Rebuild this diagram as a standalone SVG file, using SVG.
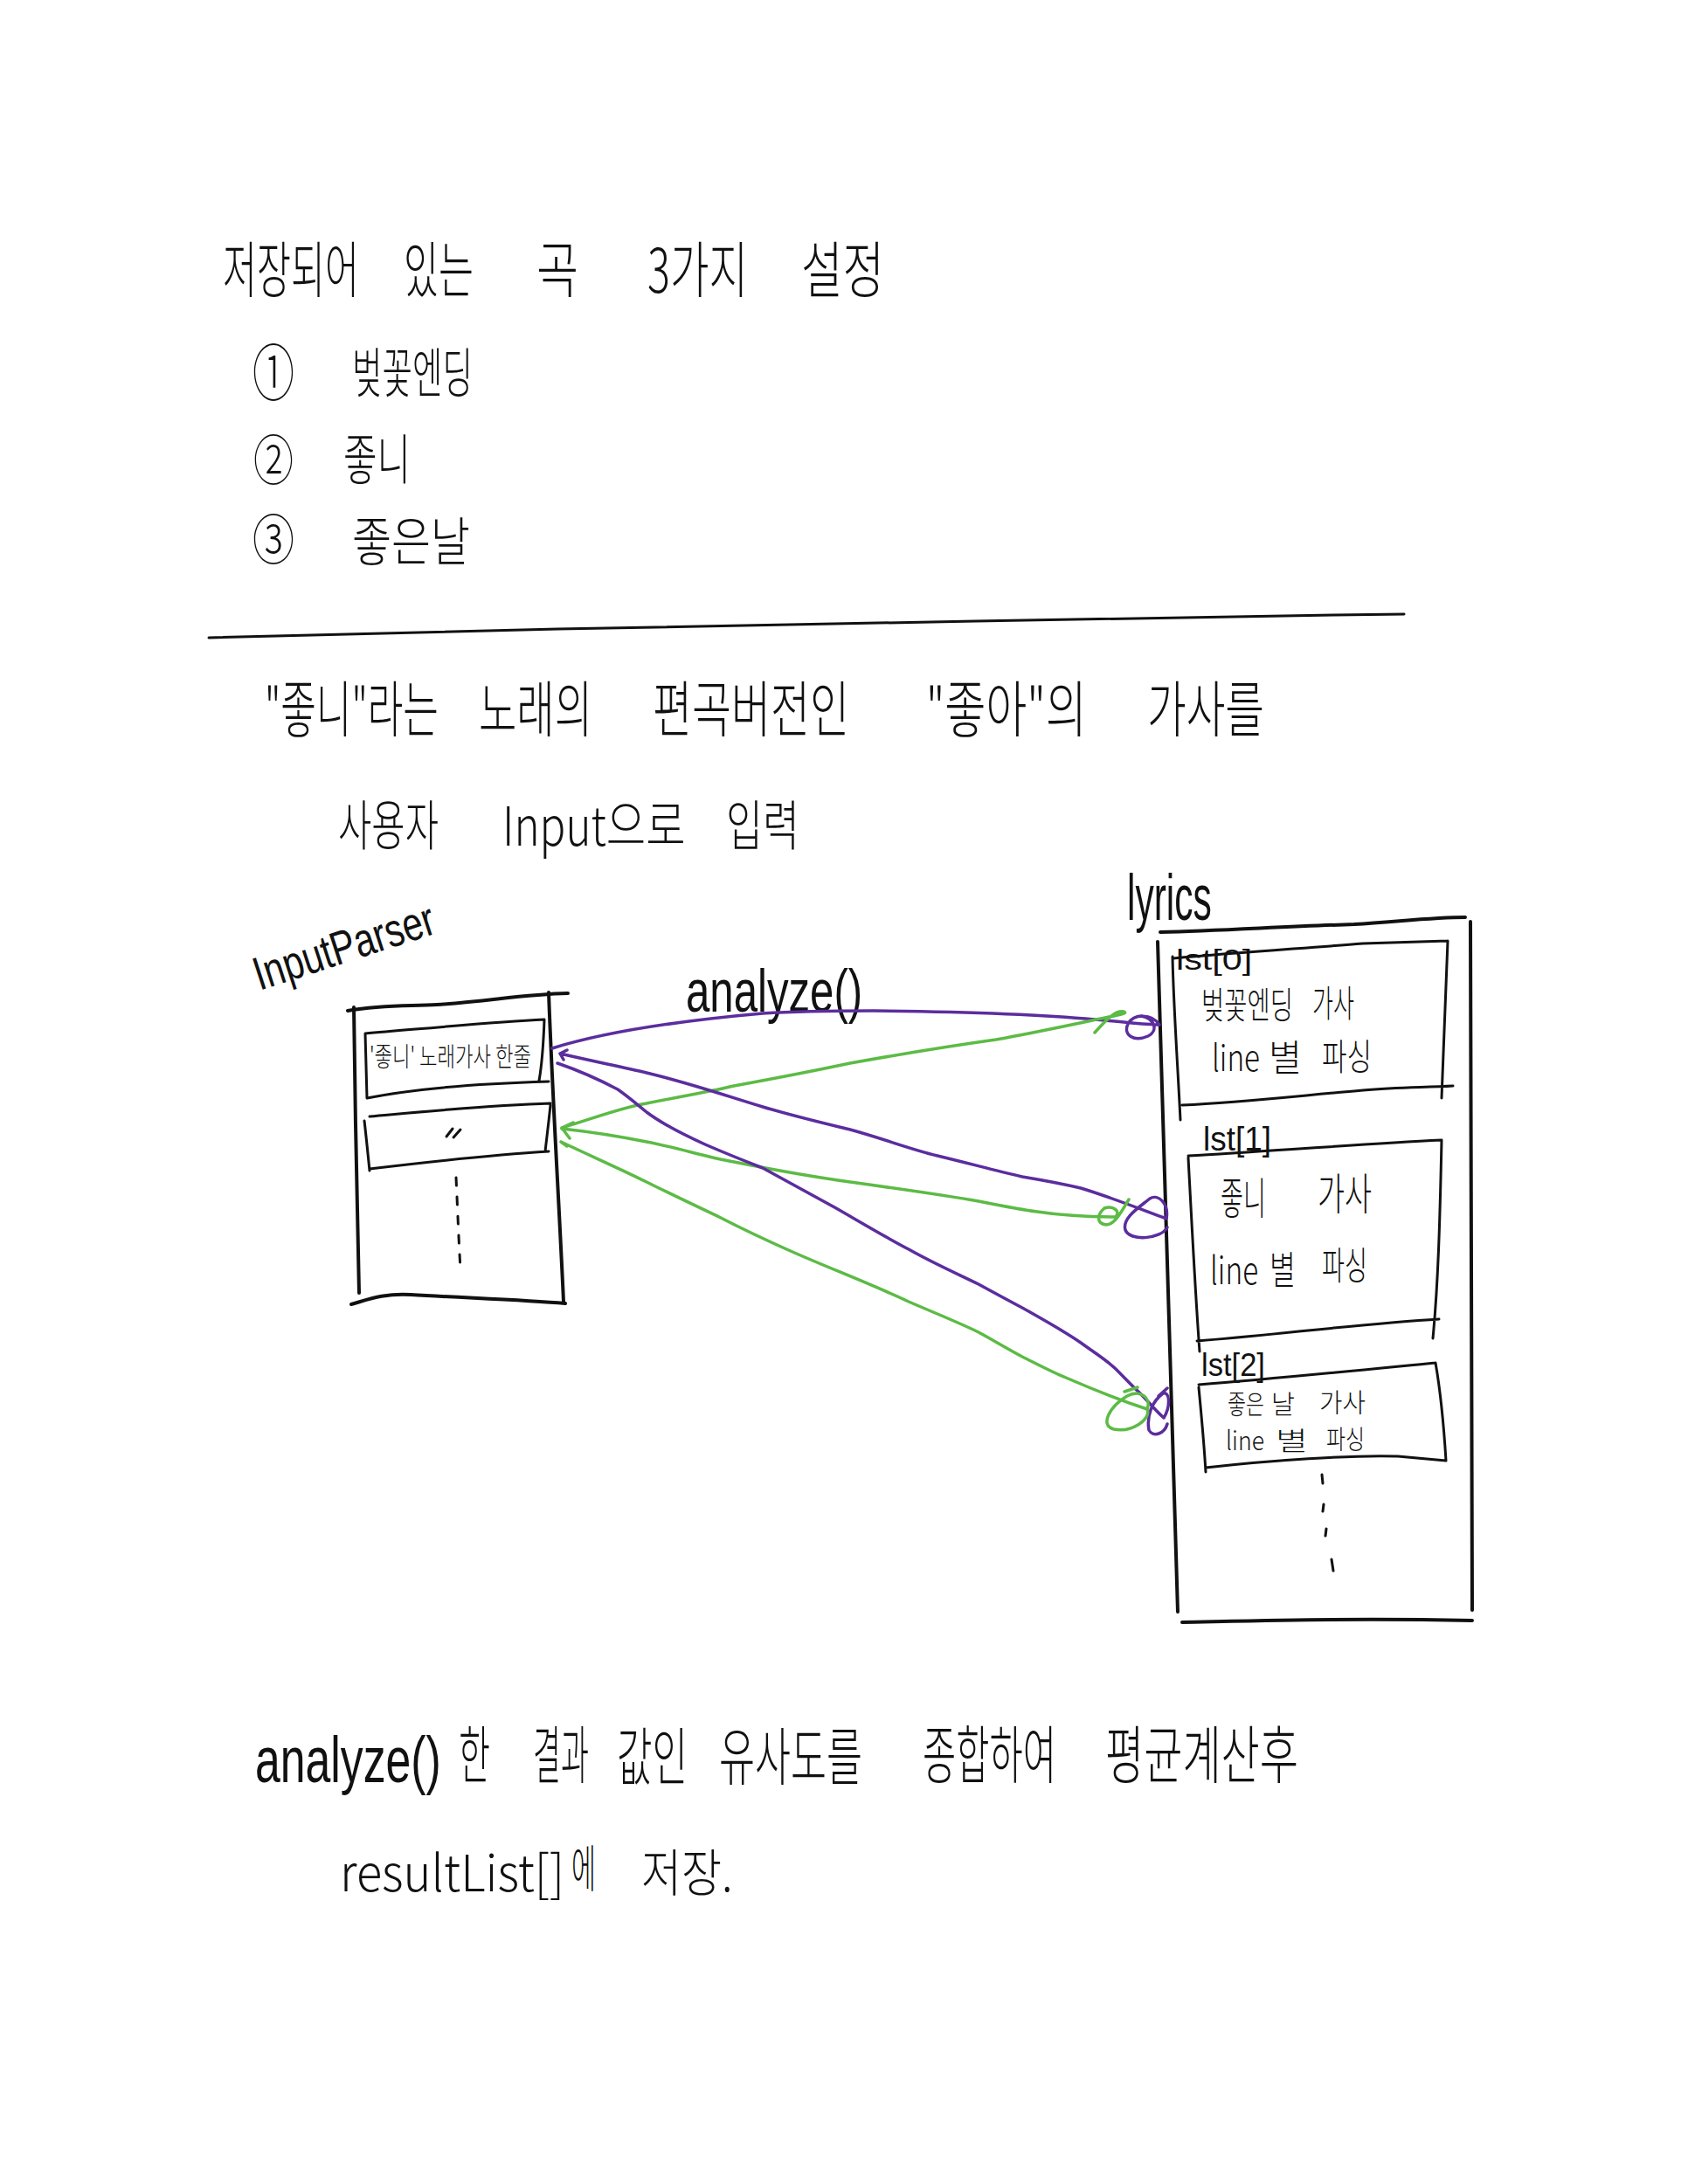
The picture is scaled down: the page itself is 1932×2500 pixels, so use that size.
<svg xmlns="http://www.w3.org/2000/svg" width="1932" height="2500" viewBox="0 0 1932 2500">
<style>
.ko{font-family:"Noto Sans CJK KR","Noto Sans",sans-serif;fill:#111;font-weight:300}
.en{font-family:"Liberation Sans",Arial,sans-serif;fill:#111}
.ink{fill:none;stroke:#111;stroke-width:4;stroke-linecap:round;stroke-linejoin:round}
.thin{stroke-width:3}
.pu{fill:none;stroke:#5b2d9e;stroke-width:3.5;stroke-linecap:round;stroke-linejoin:round}
.gr{fill:none;stroke:#5cbb45;stroke-width:3.5;stroke-linecap:round;stroke-linejoin:round}
</style>
<rect width="1932" height="2500" fill="#fff"/>

<g id="title" class="ko" font-size="70">
<text transform="translate(255 335) scale(0.557 1)" textLength="280" lengthAdjust="spacingAndGlyphs">저장되어</text>
<text transform="translate(462 335) scale(0.571 1)" textLength="140" lengthAdjust="spacingAndGlyphs">있는</text>
<text transform="translate(614 335) scale(0.686 1)" textLength="70" lengthAdjust="spacingAndGlyphs">곡</text>
<text transform="translate(741 335) scale(0.657 1)" textLength="175" lengthAdjust="spacingAndGlyphs">3가지</text>
<text transform="translate(917 335) scale(0.679 1)" textLength="140" lengthAdjust="spacingAndGlyphs">설정</text>
</g>

<g id="song-list" class="ko">
<text font-size="70" transform="translate(289 453) scale(0.686 1)" textLength="70" lengthAdjust="spacingAndGlyphs">①</text>
<text font-size="62" transform="translate(403 450) scale(0.556 1)" textLength="248" lengthAdjust="spacingAndGlyphs">벚꽃엔딩</text>
<text font-size="62" transform="translate(290 550) scale(0.742 1)" textLength="62" lengthAdjust="spacingAndGlyphs">②</text>
<text font-size="62" transform="translate(393 549) scale(0.621 1)" textLength="124" lengthAdjust="spacingAndGlyphs">좋니</text>
<text font-size="62" transform="translate(289 641) scale(0.774 1)" textLength="62" lengthAdjust="spacingAndGlyphs">③</text>
<text font-size="60" transform="translate(403 642) scale(0.75 1)" textLength="180" lengthAdjust="spacingAndGlyphs">좋은날</text>
</g>

<g id="divider">
<path class="ink thin" d="M239,730 C400,726 520,722 638,720 C800,716 960,713 1116,711 C1300,707 1450,705 1607,703"/>
</g>

<g id="description" class="ko">
<text font-size="70" transform="translate(303 838) scale(0.585 1)" textLength="340" lengthAdjust="spacingAndGlyphs">"좋니"라는</text>
<text font-size="70" transform="translate(548 838) scale(0.619 1)" textLength="210" lengthAdjust="spacingAndGlyphs">노래의</text>
<text font-size="70" transform="translate(747 838) scale(0.643 1)" textLength="350" lengthAdjust="spacingAndGlyphs">편곡버전인</text>
<text font-size="70" transform="translate(1060 838) scale(0.681 1)" textLength="270" lengthAdjust="spacingAndGlyphs">"좋아"의</text>
<text font-size="70" transform="translate(1313 838) scale(0.638 1)" textLength="210" lengthAdjust="spacingAndGlyphs">가사를</text>
<text font-size="62" transform="translate(387 968) scale(0.618 1)" textLength="186" lengthAdjust="spacingAndGlyphs">사용자</text>
<text font-size="62" transform="translate(575 968) scale(0.797 1)" textLength="263" lengthAdjust="spacingAndGlyphs">Input으로</text>
<text font-size="62" transform="translate(831 968) scale(0.677 1)" textLength="124" lengthAdjust="spacingAndGlyphs">입력</text>
</g>

<g id="input-parser">
<text class="en" font-size="54" transform="translate(297 1134) rotate(-18) scale(0.77 1)" textLength="279" lengthAdjust="spacingAndGlyphs">InputParser</text>
<path class="ink" d="M398,1157 C440,1150 470,1152 500,1150 C560,1146 600,1138 650,1137"/>
<path class="ink" d="M405,1153 C406,1260 409,1380 411,1480"/>
<path class="ink" d="M628,1136 C632,1250 640,1380 645,1490"/>
<path class="ink" d="M402,1493 C420,1488 440,1480 470,1482 C540,1486 600,1488 647,1492"/>
<g id="input-line-1">
<path class="ink thin" d="M418,1183 C480,1178 560,1170 623,1167 M418,1183 L420,1257 M623,1167 C622,1195 620,1220 617,1237 M420,1257 C480,1245 560,1240 628,1238"/>
<text class="ko" font-size="30" transform="translate(423 1220) scale(0.69 1)" textLength="268" lengthAdjust="spacingAndGlyphs">'좋니' 노래가사 한줄</text>
</g>
<g id="input-line-2">
<path class="ink thin" d="M423,1278 C490,1272 560,1265 630,1263 M417,1283 C419,1300 421,1320 423,1340 M630,1265 C628,1285 626,1300 624,1318 M423,1338 C490,1330 560,1322 628,1318"/>
<path class="ink thin" d="M511,1301 L518,1292 M519,1302 L527,1293"/>
</g>
<path class="ink thin" d="M522,1348 C524,1390 525,1420 527,1453" stroke-dasharray="9 13"/>
</g>

<g id="analyze-label">
<text class="en" font-size="68" transform="translate(785 1158) scale(0.722 1)" textLength="280" lengthAdjust="spacingAndGlyphs">analyze()</text>
</g>

<g id="lyrics">
<text class="en" font-size="74" transform="translate(1290 1053) scale(0.576 1)" textLength="168" lengthAdjust="spacingAndGlyphs">lyrics</text>
<path class="ink" d="M1328,1067 C1400,1065 1480,1060 1550,1058 C1600,1055 1640,1050 1677,1050"/>
<path class="ink" d="M1325,1078 L1348,1845"/>
<path class="ink" d="M1683,1055 L1685,1843"/>
<path class="ink" d="M1353,1857 C1450,1855 1550,1852 1685,1855"/>
</g>

<g id="lst0">
<path class="ink thin" d="M1343,1097 C1420,1090 1500,1085 1560,1080 L1657,1077 M1342,1095 C1343,1150 1348,1220 1351,1282 M1657,1077 C1655,1140 1652,1200 1650,1257 M1353,1265 C1420,1262 1480,1255 1560,1248 C1600,1244 1630,1245 1663,1243"/>
<text class="en" font-size="34" transform="translate(1346 1110) scale(1.21 1)" textLength="72" lengthAdjust="spacingAndGlyphs">lst[0]</text>
<g class="ko" font-size="42">
<text transform="translate(1375 1166) scale(0.625 1)" textLength="168" lengthAdjust="spacingAndGlyphs">벚꽃엔딩</text>
<text transform="translate(1502 1164) scale(0.571 1)" textLength="84" lengthAdjust="spacingAndGlyphs">가사</text>
<text transform="translate(1387 1226) scale(0.846 1)" textLength="65" lengthAdjust="spacingAndGlyphs">line</text>
<text transform="translate(1452 1226) scale(0.905 1)" textLength="42" lengthAdjust="spacingAndGlyphs">별</text>
<text transform="translate(1513 1225) scale(0.679 1)" textLength="84" lengthAdjust="spacingAndGlyphs">파싱</text>
</g>
</g>

<g id="lst1">
<path class="ink thin" d="M1360,1323 C1450,1318 1550,1310 1650,1305 M1360,1325 C1364,1400 1368,1480 1373,1547 M1650,1305 C1648,1400 1646,1470 1640,1532 M1370,1535 C1460,1528 1560,1515 1647,1510"/>
<text class="en" font-size="38" transform="translate(1377 1317) scale(0.975 1)" textLength="80" lengthAdjust="spacingAndGlyphs">lst[1]</text>
<g class="ko">
<text font-size="50" transform="translate(1397 1390) scale(0.52 1)" textLength="100" lengthAdjust="spacingAndGlyphs">좋니</text>
<text font-size="50" transform="translate(1508 1385) scale(0.62 1)" textLength="100" lengthAdjust="spacingAndGlyphs">가사</text>
<text font-size="44" transform="translate(1385 1470) scale(0.81 1)" textLength="68" lengthAdjust="spacingAndGlyphs">line</text>
<text font-size="44" transform="translate(1453 1470) scale(0.68 1)" textLength="44" lengthAdjust="spacingAndGlyphs">별</text>
<text font-size="44" transform="translate(1513 1465) scale(0.59 1)" textLength="88" lengthAdjust="spacingAndGlyphs">파싱</text>
</g>
</g>

<g id="lst2">
<path class="ink thin" d="M1372,1585 C1460,1578 1560,1568 1643,1560 M1643,1560 C1650,1600 1653,1640 1655,1672 M1372,1588 C1375,1620 1378,1650 1380,1685 M1380,1680 C1450,1672 1550,1665 1600,1667 L1655,1672"/>
<text class="en" font-size="36" transform="translate(1375 1575) scale(0.96 1)" textLength="76" lengthAdjust="spacingAndGlyphs">lst[2]</text>
<g class="ko" font-size="30">
<text transform="translate(1405 1618) scale(0.7 1)" textLength="60" lengthAdjust="spacingAndGlyphs">좋은</text>
<text transform="translate(1455 1618) scale(0.9 1)" textLength="30" lengthAdjust="spacingAndGlyphs">날</text>
<text transform="translate(1510 1616) scale(0.883 1)" textLength="60" lengthAdjust="spacingAndGlyphs">가사</text>
<text transform="translate(1403 1660) scale(0.946 1)" textLength="46.5" lengthAdjust="spacingAndGlyphs">line</text>
<text transform="translate(1460 1660) scale(1.23 1)" textLength="30" lengthAdjust="spacingAndGlyphs">별</text>
<text transform="translate(1518 1658) scale(0.733 1)" textLength="60" lengthAdjust="spacingAndGlyphs">파싱</text>
</g>
<path class="ink thin" d="M1513,1688 L1514,1698 M1515,1722 L1514,1730 M1518,1750 L1517,1758 M1524,1785 L1526,1798"/>
</g>

<g id="connectors">
<path class="pu" d="M632,1200 C680,1185 760,1170 873,1160 C920,1157 960,1157 1000,1157 C1100,1158 1200,1162 1253,1167 C1290,1170 1310,1173 1327,1173 C1318,1160 1298,1160 1291,1172 C1285,1185 1298,1193 1314,1186 C1326,1180 1322,1166 1306,1163"/>
<path class="gr" d="M643,1291 C680,1280 710,1268 740,1263 C790,1253 820,1248 840,1243 C900,1232 940,1224 973,1217 C1040,1205 1090,1197 1140,1190 C1190,1181 1230,1172 1260,1166 C1280,1162 1292,1160 1286,1158 C1278,1156 1268,1165 1253,1182 M643,1291 L656,1285 M643,1291 L652,1303"/>
<path class="pu" d="M641,1206 C680,1215 710,1221 740,1228 C790,1240 830,1254 873,1267 C910,1278 940,1285 973,1293 C1010,1303 1040,1315 1073,1323 C1110,1332 1140,1340 1170,1347 C1200,1352 1220,1356 1237,1360 C1270,1370 1300,1382 1335,1395 C1338,1378 1326,1366 1316,1372 C1304,1382 1284,1394 1288,1408 C1293,1421 1328,1419 1336,1405 M641,1206 L649,1202 M641,1206 L645,1213"/>
<path class="gr" d="M643,1292 C680,1296 710,1301 740,1307 C780,1315 810,1325 840,1330 C890,1340 930,1347 973,1353 C1030,1361 1080,1368 1120,1375 C1150,1381 1170,1385 1187,1387 C1220,1392 1250,1393 1277,1393 C1283,1386 1274,1380 1264,1383 C1256,1390 1254,1400 1266,1402 C1276,1402 1284,1386 1292,1373"/>
<path class="pu" d="M638,1217 C670,1228 690,1238 707,1247 C720,1256 730,1265 740,1273 C760,1288 785,1300 807,1310 C830,1320 850,1328 873,1337 C900,1352 930,1368 957,1383 C990,1402 1015,1417 1040,1430 C1070,1447 1100,1460 1120,1470 C1140,1481 1155,1489 1170,1497 C1200,1514 1220,1525 1237,1537 C1255,1550 1268,1558 1277,1567 C1290,1580 1297,1588 1303,1593 C1315,1605 1322,1614 1332,1623 C1340,1610 1339,1592 1331,1595 C1319,1604 1312,1620 1315,1637 C1320,1646 1333,1641 1336,1630 M1326,1598 L1336,1589"/>
<path class="gr" d="M642,1307 C680,1325 710,1338 740,1353 C770,1368 800,1382 823,1393 C850,1407 880,1421 907,1433 C950,1452 1000,1471 1040,1490 C1070,1503 1100,1515 1120,1525 C1140,1536 1155,1545 1170,1553 C1190,1563 1205,1571 1220,1577 C1250,1590 1280,1602 1313,1613 C1318,1600 1305,1590 1290,1598 C1270,1610 1258,1632 1275,1636 C1295,1640 1318,1625 1313,1613 M1287,1593 L1302,1588 M642,1307 L649,1312"/>
</g>

<g id="summary">
<text class="en" font-size="74" transform="translate(292 2040) scale(0.70 1)" textLength="304" lengthAdjust="spacingAndGlyphs">analyze()</text>
<g class="ko" font-size="72">
<text transform="translate(525 2035) scale(0.5 1)" textLength="72" lengthAdjust="spacingAndGlyphs">한</text>
<text transform="translate(610 2035) scale(0.444 1)" textLength="144" lengthAdjust="spacingAndGlyphs">결과</text>
<text transform="translate(706 2037) scale(0.5625 1)" textLength="144" lengthAdjust="spacingAndGlyphs">값인</text>
<text transform="translate(823 2037) scale(0.569 1)" textLength="288" lengthAdjust="spacingAndGlyphs">유사도를</text>
<text transform="translate(1056 2035) scale(0.531 1)" textLength="288" lengthAdjust="spacingAndGlyphs">종합하여</text>
<text transform="translate(1265 2035) scale(0.614 1)" textLength="360" lengthAdjust="spacingAndGlyphs">평균계산후</text>
</g>
<g class="ko" font-size="58">
<text transform="translate(389 2165) scale(0.945 1)" textLength="272" lengthAdjust="spacingAndGlyphs">resultList[]</text>
<text transform="translate(654 2160) scale(0.483 1)" textLength="58" lengthAdjust="spacingAndGlyphs">에</text>
<text transform="translate(734 2165) scale(0.805 1)" textLength="130" lengthAdjust="spacingAndGlyphs">저장.</text>
</g>
</g>
</svg>
